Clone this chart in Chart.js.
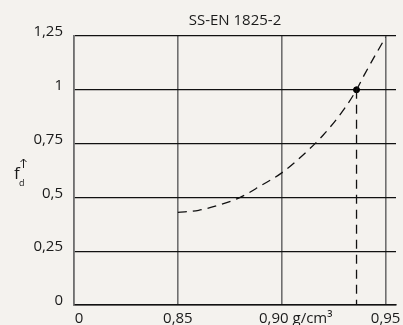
<!DOCTYPE html>
<html>
<head>
<meta charset="utf-8">
<script src="https://cdn.jsdelivr.net/npm/chart.js@4/dist/chart.umd.min.js"></script>
<style>
  html, body { margin: 0; padding: 0; background: #f4f2ee; }
  #wrap { width: 403px; height: 325px; }
</style>
</head>
<body>
<div id="wrap"><canvas id="fdChart"></canvas></div>
<script>
// density in g/cm3 and the factor fd
const densities = [0.85, 0.86, 0.87, 0.88, 0.89, 0.90, 0.91, 0.92, 0.93, 0.936, 0.94, 0.95];
const fdValues  = [0.43, 0.44, 0.465, 0.50, 0.555, 0.614, 0.695, 0.79, 0.91, 1.0, 1.074, 1.245];

// marked point and its drop line
const markDensity = 0.936;
const markFd = 1.0;

// broken x axis: 0, then 0,85 / 0,90 / 0,95 evenly spaced
const xTickValues = [0, 0.85, 0.90, 0.95];
const xTickLabels = ['0', '0,85', '0,90 g/cm³', '0,95'];
const xMaxDensity = 0.955;

const yTickValues = [0, 0.25, 0.5, 0.75, 1, 1.25];
const yTickLabels = ['0', '0,25', '0,5', '0,75', '1', '1,25'];

// map a density onto the broken axis position
function xPos(d) {
    if (d === 0) return 0;
    return (d - 0.80) / 0.05;
}

const curvePoints = densities.map((d, i) => ({ x: xPos(d), y: fdValues[i] }));
const dropLine = [{ x: xPos(markDensity), y: markFd }, { x: xPos(markDensity), y: 0 }];

const fontFamily = '"Open Sans", sans-serif';

// background + x labels + f_d axis label
const drawExtras = {
    id: 'drawExtras',
    beforeDraw(chart) {
        const ctx = chart.ctx;
        ctx.save();
        ctx.fillStyle = '#f4f2ee';
        ctx.fillRect(0, 0, chart.width, chart.height);
        ctx.restore();
    },
    afterDraw(chart) {
        const ctx = chart.ctx;
        const xScale = chart.scales.x;
        ctx.save();
        ctx.fillStyle = '#1a1a1a';
        ctx.font = '15px ' + fontFamily;
        ctx.textBaseline = 'alphabetic';
        xTickValues.forEach((v, i) => {
            const px = xScale.getPixelForValue(xPos(v));
            let shift = 0;
            if (i === 0) shift = 5;
            if (i === 2) shift = 14;
            ctx.textAlign = 'center';
            ctx.fillText(xTickLabels[i], px + shift, 323);
        });

        // f_d label with arrow
        ctx.textAlign = 'left';
        ctx.font = '17px ' + fontFamily;
        ctx.fillText('f', 14, 179);
        ctx.font = '9px ' + fontFamily;
        ctx.fillText('d', 19, 186);
        ctx.strokeStyle = '#1a1a1a';
        ctx.lineWidth = 1;
        ctx.beginPath();
        ctx.moveTo(23.5, 168);
        ctx.lineTo(23.5, 159);
        ctx.moveTo(20.5, 162);
        ctx.lineTo(23.5, 159);
        ctx.lineTo(26.5, 162);
        ctx.stroke();
        ctx.restore();
    }
};

const ctx = document.getElementById('fdChart').getContext('2d');
const fdChart = new Chart(ctx, {
    type: 'scatter',
    data: {
        datasets: [
            {
                data: curvePoints,
                showLine: true,
                borderColor: '#111',
                borderWidth: 1.3,
                borderDash: [9, 6],
                pointRadius: 0,
                cubicInterpolationMode: 'monotone',
                fill: false
            },
            {
                data: dropLine,
                showLine: true,
                borderColor: '#111',
                borderWidth: 1.3,
                borderDash: [9, 6],
                pointRadius: 0,
                fill: false
            },
            {
                data: [{ x: xPos(markDensity), y: markFd }],
                pointRadius: 3,
                pointBackgroundColor: '#000',
                pointBorderColor: '#000'
            }
        ]
    },
    options: {
        responsive: true,
        maintainAspectRatio: false,
        animation: false,
        layout: { padding: { left: 0, right: 7, top: 0, bottom: 0 } },
        plugins: {
            legend: { display: false },
            tooltip: { enabled: false },
            title: {
                display: true,
                text: 'SS-EN 1825-2',
                fullSize: false,
                color: '#1a1a1a',
                font: { family: fontFamily, size: 15, weight: 'normal' },
                padding: { top: 12, bottom: 6 }
            }
        },
        scales: {
            x: {
                type: 'linear',
                min: 0,
                max: xPos(xMaxDensity),
                afterBuildTicks: (scale) => {
                    scale.ticks = xTickValues.map(v => ({ value: xPos(v) }));
                },
                afterFit: (scale) => { scale.height = 19; },
                ticks: { display: false },
                grid: {
                    color: '#6f6f6f',
                    lineWidth: 1.6,
                    drawTicks: false
                },
                border: { color: '#111', width: 1.5 }
            },
            y: {
                min: 0,
                max: 1.25,
                afterBuildTicks: (scale) => {
                    scale.ticks = yTickValues.map(v => ({ value: v }));
                },
                afterFit: (scale) => { scale.width = 74; },
                ticks: {
                    color: '#1a1a1a',
                    padding: 11,
                    labelOffset: -4,
                    font: { family: fontFamily, size: 15 },
                    callback: (value) => {
                        const i = yTickValues.indexOf(value);
                        return i >= 0 ? yTickLabels[i] : '';
                    }
                },
                grid: {
                    color: '#111',
                    lineWidth: 1.3,
                    drawTicks: false
                },
                border: { color: '#6f6f6f', width: 1.6 }
            }
        }
    },
    plugins: [drawExtras]
});
</script>
</body>
</html>
